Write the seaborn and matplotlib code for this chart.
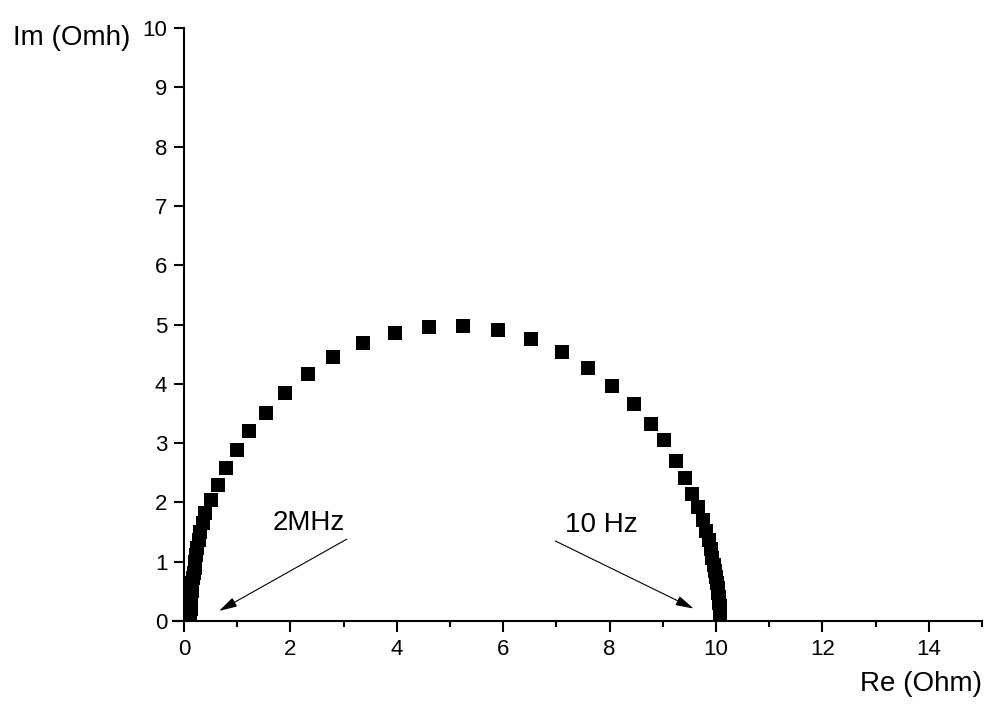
import matplotlib
matplotlib.use("Agg")
import matplotlib.pyplot as plt
import seaborn as sns
import pandas as pd

# Nyquist data (high frequency -> low frequency)
re_ohm = [0.12, 0.12, 0.12, 0.13, 0.13, 0.13, 0.13, 0.14, 0.14, 0.15, 0.15,
          0.16, 0.17, 0.18, 0.20, 0.21, 0.23, 0.25, 0.28, 0.31, 0.35, 0.40,
          0.50, 0.64, 0.79, 0.99, 1.23, 1.54, 1.90, 2.33, 2.80, 3.37, 3.97,
          4.61, 5.25, 5.91, 6.53, 7.11, 7.60, 8.05, 8.45, 8.77, 9.03, 9.24,
          9.41, 9.55, 9.66, 9.75, 9.81, 9.86, 9.90, 9.93, 9.96, 9.98, 10.00,
          10.02, 10.03, 10.04, 10.05, 10.06, 10.06, 10.07, 10.07, 10.08,
          10.08, 10.08, 10.08]
im_ohm = [0.11, 0.14, 0.17, 0.20, 0.24, 0.28, 0.33, 0.38, 0.44, 0.50, 0.57,
          0.64, 0.72, 0.81, 0.90, 1.00, 1.11, 1.23, 1.36, 1.50, 1.65, 1.82,
          2.04, 2.30, 2.58, 2.88, 3.20, 3.51, 3.84, 4.17, 4.45, 4.69, 4.86,
          4.96, 4.97, 4.91, 4.76, 4.54, 4.27, 3.96, 3.66, 3.32, 3.05, 2.70,
          2.42, 2.15, 1.92, 1.70, 1.52, 1.36, 1.21, 1.07, 0.95, 0.84, 0.74,
          0.64, 0.56, 0.48, 0.41, 0.35, 0.30, 0.25, 0.21, 0.18, 0.15, 0.12,
          0.10]

x_major = [0, 2, 4, 6, 8, 10, 12, 14]
x_minor = [1, 3, 5, 7, 9, 11, 13, 15]
y_major = [0, 1, 2, 3, 4, 5, 6, 7, 8, 9, 10]

x_label = "Re (Ohm)"
y_label = "Im (Omh)"
ann_texts = ["2MHz", "10 Hz"]
ann_text_pos = [(1.67, 1.65), (7.17, 1.62)]
ann_tail = [(3.06, 1.38), (6.98, 1.35)]
ann_head = [(0.66, 0.17), (9.58, 0.21)]

sns.set_style("ticks")
plt.rcParams['font.family'] = ['Liberation Sans', 'DejaVu Sans']
plt.rcParams['text.color'] = 'black'
plt.rcParams['axes.labelcolor'] = 'black'
plt.rcParams['xtick.color'] = 'black'
plt.rcParams['ytick.color'] = 'black'

df = pd.DataFrame({"re": re_ohm, "im": im_ohm})

fig = plt.figure(figsize=(9.88, 7.13), dpi=100)
ax = fig.add_axes([0.1862, 0.129, 0.8077, 0.8317])

sns.scatterplot(data=df, x="re", y="im", marker="s", s=88, color="black",
                linewidth=0, ax=ax, clip_on=False, zorder=3)

ax.set_xlim(0, 15)
ax.set_ylim(0, 10)
ax.set_xticks(x_major)
ax.set_xticks(x_minor, minor=True)
ax.set_yticks(y_major)
ax.set_xlabel("")
ax.set_ylabel("")

for s in ["top", "right"]:
    ax.spines[s].set_visible(False)
for s in ["left", "bottom"]:
    ax.spines[s].set_linewidth(1.5)
    ax.spines[s].set_color("black")
# small stub of the x axis line to the left of the y axis
ax.plot([-0.23, 0], [0, 0], color="black", lw=1.5, clip_on=False,
        solid_capstyle="butt")

ax.tick_params(axis="x", which="major", direction="out", length=8, width=1.5,
               labelsize=16, pad=5, colors="black")
ax.tick_params(axis="x", which="minor", direction="out", length=4.5, width=1.5,
               colors="black")
ax.tick_params(axis="y", which="major", direction="out", length=7, width=1.5,
               labelsize=16, pad=5, colors="black")

fig.text(13 / 988, 1 - 38 / 713, y_label, fontsize=20, ha="left", va="center",
         color="black")
fig.text(982 / 988, 1 - 684 / 713, x_label, fontsize=20, ha="right", va="center",
         color="black")

for txt, tp, tail, head in zip(ann_texts, ann_text_pos, ann_tail, ann_head):
    ax.text(tp[0], tp[1], txt, fontsize=20, ha="left", va="center", color="black")
    ax.annotate("", xy=head, xytext=tail,
                arrowprops=dict(arrowstyle="-|>,head_length=1.1,head_width=0.3",
                                color="black", lw=0.8, shrinkA=0, shrinkB=0,
                                mutation_scale=10))

fig.savefig("out.png", dpi=100)
